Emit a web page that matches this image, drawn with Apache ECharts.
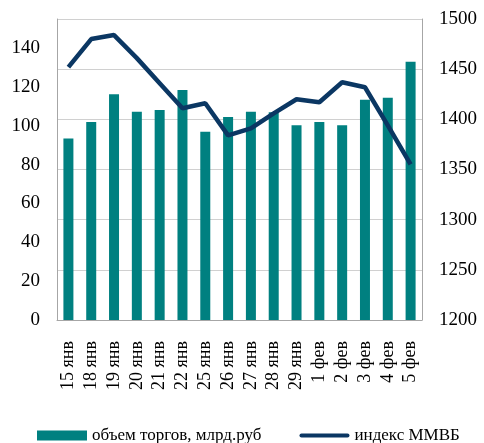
<!DOCTYPE html>
<html>
<head>
<meta charset="utf-8">
<script src="https://cdn.jsdelivr.net/npm/echarts@6/dist/echarts.min.js"></script>
<style>
  html, body { margin: 0; padding: 0; background: #fff; }
  #chart { width: 484px; height: 443px; }
</style>
</head>
<body>
<div id="chart"></div>
<script>
// даты торгов
var days = ['15 янв', '18 янв', '19 янв', '20 янв', '21 янв', '22 янв', '25 янв', '26 янв',
  '27 янв', '28 янв', '29 янв', '1 фев', '2 фев', '3 фев', '4 фев', '5 фев'];
// объем торгов, млрд.руб
var volume = [93.5, 102, 116.3, 107.2, 108.2, 118.5, 96.9, 104.5,
  107.2, 107, 100.3, 102, 100.3, 113.4, 114.4, 133];
// индекс ММВБ
var micex = [1452, 1480, 1484, 1461, 1436, 1411, 1416, 1384,
  1391, 1406, 1420, 1417, 1437, 1432, 1394, 1355];

var font = 'Liberation Serif';
var myChart = echarts.init(document.getElementById('chart'));
var option = {
  animation: false,
  textStyle: { fontFamily: font },
  grid: { left: 57, right: 62, top: 19, bottom: 123 },
  legend: {
    left: 32,
    top: 422,
    itemWidth: 50,
    itemHeight: 10,
    itemGap: 38,
    textStyle: { fontFamily: font, fontSize: 17, color: '#000' },
    data: [
      { name: 'объем торгов, млрд.руб', icon: 'rect' },
      // тонкая линия в легенде, без маркера
      { name: 'индекс ММВБ', icon: 'path://M0,0M0,10M2,3h46a2,2 0 0 1 0,4h-46a2,2 0 0 1 0,-4z' }
    ]
  },
  xAxis: {
    type: 'category',
    data: days,
    axisTick: { show: false },
    axisLine: { lineStyle: { color: '#a6a6a6' } },
    axisLabel: {
      rotate: 90,
      interval: 0,
      margin: 21,
      fontFamily: font,
      fontSize: 18,
      color: '#000'
    }
  },
  yAxis: [
    {
      type: 'value',
      min: 0,
      max: 155,
      interval: 20,
      axisLine: { show: true, lineStyle: { color: '#a6a6a6' } },
      axisTick: { show: false },
      splitLine: { show: false },
      axisLabel: {
        showMaxLabel: false,
        margin: 17,
        fontFamily: font,
        fontSize: 19,
        color: '#000'
      }
    },
    {
      type: 'value',
      min: 1200,
      max: 1500,
      interval: 50,
      axisLine: { show: true, lineStyle: { color: '#a6a6a6' } },
      axisTick: { show: false },
      splitLine: { show: true, lineStyle: { color: '#d0d0d0' } },
      axisLabel: {
        margin: 17,
        fontFamily: font,
        fontSize: 19,
        color: '#000',
        formatter: function (v) { return String(v); }
      }
    }
  ],
  series: [
    {
      name: 'объем торгов, млрд.руб',
      type: 'bar',
      yAxisIndex: 0,
      barWidth: 10,
      itemStyle: { color: '#008080' },
      data: volume
    },
    {
      name: 'индекс ММВБ',
      type: 'line',
      yAxisIndex: 1,
      symbol: 'none',
      lineStyle: { color: '#0b3763', width: 4.5 },
      itemStyle: { color: '#0b3763' },
      data: micex
    }
  ]
};
myChart.setOption(option);
</script>
</body>
</html>
